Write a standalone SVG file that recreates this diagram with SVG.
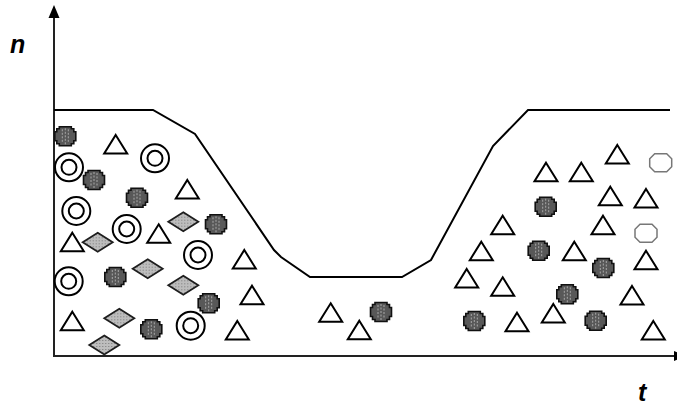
<svg xmlns="http://www.w3.org/2000/svg" width="677" height="407" viewBox="0 0 677 407">
<style>
.ax{stroke:#222;stroke-width:2;fill:none}
.curve{stroke:#000;stroke-width:2;fill:none}
.lbl{font-family:"Liberation Sans",Arial,sans-serif;font-weight:bold;font-style:italic;font-size:25px;fill:#000}
</style>
<defs>
<pattern id="dots" width="3" height="3" patternUnits="userSpaceOnUse">
<rect width="3" height="3" fill="#bdbdbd"/>
<rect x="1" y="1" width="1" height="1" fill="#777"/>
</pattern>
<g id="cross">
<path d="M-6,-9.5H6V-7.5H8.5V-4.5H10.5V4.5H8.5V7.5H6V9.5H-6V7.5H-8.5V4.5H-10.5V-4.5H-8.5V-7.5H-6Z" fill="#585858" stroke="#111" stroke-width="1.6"/>
<path d="M-3,-7V7M0,-8V8M3,-7V7" stroke="#a8a8a8" stroke-width="1" stroke-dasharray="2 1.5"/>
</g>
<g id="tri"><polygon points="0,0 11.5,18.5 -11.5,18.5" fill="#fff" stroke="#000" stroke-width="2"/></g>
<g id="ring"><circle r="14" fill="#fff" stroke="#000" stroke-width="2"/><circle r="7.5" fill="#fff" stroke="#000" stroke-width="2"/></g>
<g id="dia"><polygon points="0,-9.5 15,0 0,9.5 -15,0" fill="url(#dots)" stroke="#1e1e1e" stroke-width="1.8"/></g>
<g id="oct"><polygon points="-6,-9 6,-9 11,-4 11,4 6,9 -6,9 -11,4 -11,-4" fill="#fff" stroke="#777" stroke-width="1.5"/></g>
</defs>
<rect width="677" height="407" fill="#fff"/>
<g id="axes">
<line class="ax" x1="54" y1="15" x2="54" y2="357"/>
<polygon points="54,5 59.5,18 48.5,18" fill="#000"/>
<line class="ax" x1="53" y1="356" x2="676" y2="356"/>
<polygon points="674,351 686,356 674,361" fill="#000"/>
</g>
<g id="connectors">
<polyline class="curve" points="54,110 153,110 195,134 274,250 281,257 310,277 402,277 431,260 493,146 528,110 670,110"/>
</g>
<g id="labels">
<text class="lbl" x="10" y="53">n</text>
<text class="lbl" x="638" y="401">t</text>
</g>
<g id="crosses">
<use href="#cross" x="65.3" y="136.3"/>
<use href="#cross" x="94" y="180"/>
<use href="#cross" x="137" y="197.7"/>
<use href="#cross" x="216" y="224.3"/>
<use href="#cross" x="115.3" y="277"/>
<use href="#cross" x="208.7" y="303.3"/>
<use href="#cross" x="151.3" y="329.3"/>
<use href="#cross" x="381" y="312"/>
<use href="#cross" x="545.7" y="206.7"/>
<use href="#cross" x="538.7" y="250.7"/>
<use href="#cross" x="603.3" y="268"/>
<use href="#cross" x="567.3" y="294.3"/>
<use href="#cross" x="474.3" y="321"/>
<use href="#cross" x="595.7" y="320.7"/>
</g>
<g id="rings">
<use href="#ring" x="69" y="167.3"/>
<use href="#ring" x="155" y="158.3"/>
<use href="#ring" x="76.3" y="211"/>
<use href="#ring" x="126.7" y="229"/>
<use href="#ring" x="198" y="255"/>
<use href="#ring" x="68.7" y="281.3"/>
<use href="#ring" x="190.7" y="325.7"/>
</g>
<g id="diamonds">
<use href="#dia" x="97.7" y="242.3"/>
<use href="#dia" x="183.3" y="221.7"/>
<use href="#dia" x="147.7" y="268.7"/>
<use href="#dia" x="183.3" y="285.3"/>
<use href="#dia" x="119.3" y="318.3"/>
<use href="#dia" x="104.3" y="345"/>
</g>
<g id="triangles">
<use href="#tri" x="115.7" y="135"/>
<use href="#tri" x="187.3" y="180"/>
<use href="#tri" x="158.7" y="224.3"/>
<use href="#tri" x="72.3" y="232.7"/>
<use href="#tri" x="244.3" y="250"/>
<use href="#tri" x="252" y="285.7"/>
<use href="#tri" x="72.3" y="311.7"/>
<use href="#tri" x="237.3" y="321"/>
<use href="#tri" x="330.7" y="303.3"/>
<use href="#tri" x="359.3" y="320.7"/>
<use href="#tri" x="617.3" y="145"/>
<use href="#tri" x="546" y="162.7"/>
<use href="#tri" x="581.3" y="162.7"/>
<use href="#tri" x="610.3" y="186.7"/>
<use href="#tri" x="646" y="189"/>
<use href="#tri" x="502.7" y="215.7"/>
<use href="#tri" x="603" y="215.7"/>
<use href="#tri" x="481.3" y="241.7"/>
<use href="#tri" x="574.3" y="241.7"/>
<use href="#tri" x="646" y="250.7"/>
<use href="#tri" x="466.7" y="269"/>
<use href="#tri" x="502.7" y="277.3"/>
<use href="#tri" x="632" y="286"/>
<use href="#tri" x="553.3" y="304"/>
<use href="#tri" x="517" y="312.7"/>
<use href="#tri" x="653.3" y="321"/>
</g>
<g id="octagons">
<use href="#oct" x="660.7" y="162.7"/>
<use href="#oct" x="646" y="233.3"/>
</g>
</svg>
